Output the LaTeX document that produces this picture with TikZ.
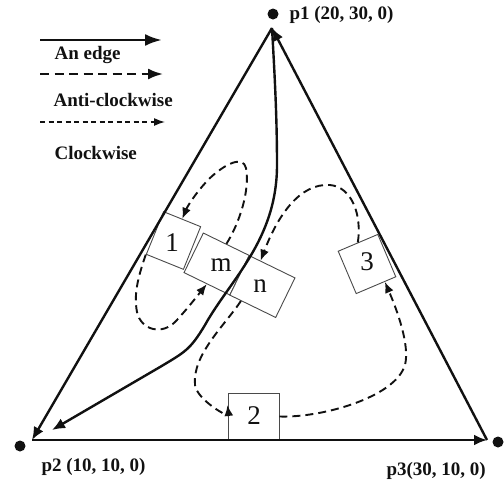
\documentclass[tikz,border=0pt]{standalone}
\usepackage{fontspec}
\setmainfont{Liberation Serif}
\usetikzlibrary{arrows.meta}
\definecolor{ink}{HTML}{111111}
\definecolor{boxline}{HTML}{4A4A4A}
\tikzset{
  vertex/.style={circle,fill=ink,inner sep=0pt,minimum size=11pt},
  ptlabel/.style={anchor=west,font=\fontsize{19}{19}\selectfont\bfseries,text=ink},
  cell/.style={draw=boxline,line width=0.9pt,fill=white,inner sep=0pt},
  num/.style={font=\fontsize{27}{27}\selectfont,text=ink},
  edgearrow/.style={draw=ink,line width=2.4pt,-{Latex[length=13pt,width=11pt]}},
  antiarrow/.style={draw=ink,line width=1.9pt,dash pattern=on 8pt off 5pt,-{Latex[length=11pt,width=9pt]}},
  keyedge/.style={draw=ink,line width=2.8pt,-{Latex[length=17pt,width=12pt]}},
  keyanti/.style={draw=ink,line width=2.2pt,dash pattern=on 9pt off 5.5pt,-{Latex[length=15pt,width=11pt]}},
  keycw/.style={draw=ink,line width=1.4pt,dash pattern=on 5pt off 3.5pt,-{Latex[length=11pt,width=8pt]}},
}
\begin{document}
\begin{tikzpicture}[x=1pt,y=-1pt]
  \useasboundingbox (0,0) rectangle (504,483);
  % legend
  \coordinate (k1a) at (40,40);  \coordinate (k1b) at (162,40);
  \coordinate (k2a) at (40,74);  \coordinate (k2b) at (163,74);
  \coordinate (k3a) at (40,122); \coordinate (k3b) at (165,122);
  \draw[keyedge] (k1a) -- (k1b);
  \draw[keyanti] (k2a) -- (k2b);
  \draw[keycw]   (k3a) -- (k3b);
  \node[ptlabel] (k1t) at (51,55)  {An edge};
  \node[ptlabel] (k2t) at (50,100) {Anti-clockwise};
  \node[ptlabel] (k3t) at (51,153) {Clockwise};
  % the three points
  \node[vertex] (p1) at (273,14) {};
  \node[vertex] (p2) at (20,446) {};
  \node[vertex] (p3) at (498,442) {};
  \node[ptlabel] (p1t) at (286,15)  {p1 (20, 30, 0)};
  \node[ptlabel] (p2t) at (38,467)  {p2 (10, 10, 0)};
  \node[ptlabel] (p3t) at (383,471) {p3(30, 10, 0)};
  \coordinate (v1) at (272,28);
  \coordinate (v2) at (32,440);
  \coordinate (v3) at (487,440);
  \coordinate (c2) at (52,430);
  % cells
  \node[cell,minimum width=40pt,minimum height=46pt,rotate=-22] (b1) at (173.5,240.5) {};
  \node[cell,minimum width=51pt,minimum height=44pt,rotate=-26] (m) at (216.6,264) {};
  \node[cell,minimum width=51pt,minimum height=44pt,rotate=-26] (n) at (262.4,286.5) {};
  \node[cell,minimum width=43pt,minimum height=46pt,rotate=23] (b3) at (367,264) {};
  \node[cell,minimum width=51pt,minimum height=47pt] (b2) at (253.5,416.5) {};
  \node[num] (t1) at (172,243) {1};
  \node[num] (tm) at (221,265) {m};
  \node[num] (tn) at (260,286) {n};
  \node[num] (t3) at (367,262) {3};
  \node[num] (t2) at (254,416) {2};
  % loops
  \draw[antiarrow] (m.north) .. controls (240,222) and (250,190) .. (246,168)
    .. controls (243,155) and (225,164) .. (210,178) .. controls (198,190) and (188,205) .. (b1.north);
  \draw[antiarrow] (b1.south west) .. controls (140,272) and (133,292) .. (137,312)
    .. controls (141,330) and (162,336) .. (176,321) .. controls (188,308) and (198,295) .. (m.south);
  \draw[antiarrow] (b3.north) .. controls (362,215) and (352,187) .. (330,185)
    .. controls (300,183) and (278,215) .. (n.120);
  \draw[antiarrow] (n.-120) .. controls (225,325) and (192,355) .. (195,385)
    .. controls (197,400) and (229,418) .. (b2.156);
  \draw[antiarrow] (b2.east) .. controls (320,418) and (395,398) .. (405,365)
    .. controls (410,345) and (397,310) .. (b3.-68);
  % edges
  \draw[edgearrow] (v1) -- (v2);
  \draw[edgearrow] (v2) -- (v3);
  \draw[edgearrow] (v3) -- (v1);
  \draw[edgearrow] (v1) .. controls (275,80) and (277,120) .. (277,165)
    .. controls (277,240) and (230,280) .. (205,325) .. controls (190,350) and (185,352) .. (160,367) -- (c2);
\end{tikzpicture}
\end{document}
